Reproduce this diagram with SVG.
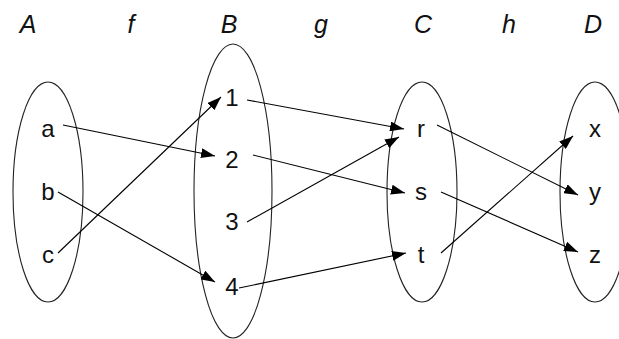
<svg xmlns="http://www.w3.org/2000/svg" width="619" height="339" viewBox="0 0 619 339">
<defs>
<marker id="ah" markerWidth="14" markerHeight="10" refX="14" refY="5" orient="auto" markerUnits="userSpaceOnUse">
<path d="M0,0 L14,5 L0,10 Z" fill="#000"/>
</marker>
<style>
.set{fill:none;stroke:#222;stroke-width:1.1}
.t{font-family:"Liberation Sans",Arial,sans-serif;font-size:24px;fill:#111;text-anchor:middle}
.h{font-style:italic;font-size:25px}
.c line{stroke:#000;stroke-width:1.1;marker-end:url(#ah)}
</style>
</defs>
<rect width="619" height="339" fill="#fff"/>
<g id="headers">
<text class="t h" x="28" y="33">A</text>
<text class="t h" x="131" y="33">f</text>
<text class="t h" x="229" y="33">B</text>
<text class="t h" x="321" y="33">g</text>
<text class="t h" x="423" y="33">C</text>
<text class="t h" x="509" y="33">h</text>
<text class="t h" x="593" y="33">D</text>
</g>
<g id="setA"><ellipse class="set" cx="48" cy="192" rx="35" ry="110"/>
<text class="t" x="48" y="137">a</text><text class="t" x="48" y="200">b</text><text class="t" x="48" y="263">c</text></g>
<g id="setB"><ellipse class="set" cx="233" cy="191" rx="39" ry="147"/>
<text class="t" x="232" y="106">1</text><text class="t" x="232" y="168">2</text><text class="t" x="232" y="230">3</text><text class="t" x="232" y="295">4</text></g>
<g id="setC"><ellipse class="set" cx="422" cy="192" rx="35" ry="110"/>
<text class="t" x="421" y="137">r</text><text class="t" x="421" y="200">s</text><text class="t" x="421" y="263">t</text></g>
<g id="setD"><ellipse class="set" cx="595" cy="192" rx="35" ry="110"/>
<text class="t" x="595" y="137">x</text><text class="t" x="595" y="200">y</text><text class="t" x="595" y="263">z</text></g>
<g id="connectors" class="c">
<line x1="63" y1="125" x2="215" y2="156"/>
<line x1="58" y1="192" x2="215" y2="282"/>
<line x1="58" y1="253" x2="221" y2="97"/>
<line x1="247" y1="100" x2="404" y2="129"/>
<line x1="253" y1="155" x2="405" y2="193"/>
<line x1="247" y1="222" x2="399" y2="137"/>
<line x1="239" y1="288" x2="406" y2="253"/>
<line x1="437" y1="125" x2="578" y2="195"/>
<line x1="441" y1="192" x2="578" y2="252"/>
<line x1="441" y1="253" x2="573" y2="136"/>
</g>
</svg>
